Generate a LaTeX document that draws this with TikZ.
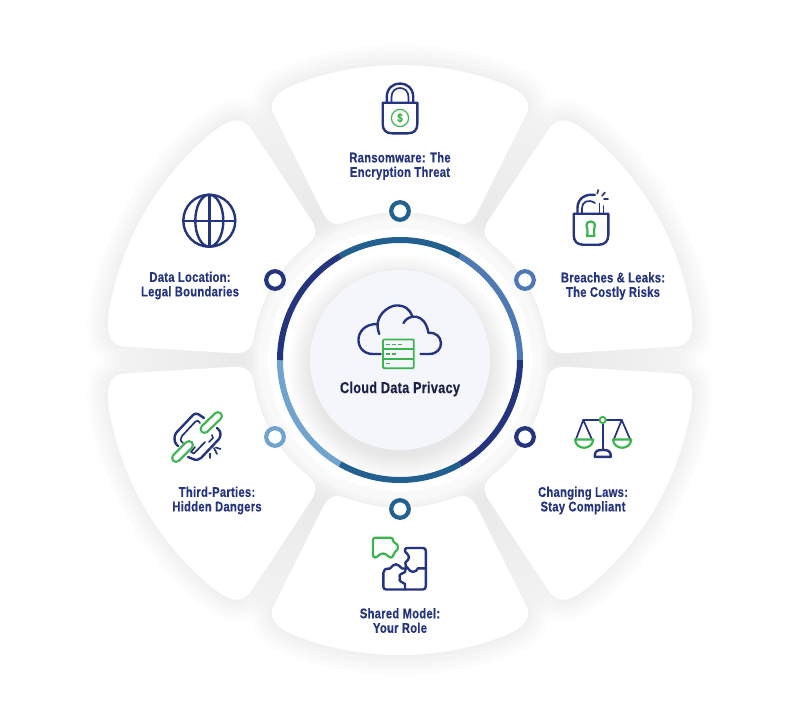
\documentclass[tikz,border=0pt]{standalone}
\usepackage{fontspec}
\setmainfont{Liberation Sans}[FakeStretch=0.8,LetterSpace=2,BoldFeatures={FakeBold=0.4}]
\definecolor{navy}{HTML}{25347F}
\definecolor{steel}{HTML}{21608F}
\definecolor{midblue}{HTML}{4F79B5}
\definecolor{lightblue}{HTML}{70A4CF}
\definecolor{leaf}{HTML}{3CB44F}
\definecolor{ink}{HTML}{1B2147}
\definecolor{discfill}{HTML}{F5F6FB}
\definecolor{halo}{HTML}{6A7090}
\newcommand\sectorshape{(249:295pt) arc[start angle=249,end angle=291,radius=295pt]
  .. controls (118,-270) and (134,-262) .. (126,-245) -- (77,-147)
  .. controls (70,-134) and (62,-135) .. (53,-138)
  arc[start angle=291,end angle=249,radius=147.8pt]
  .. controls (-62,-135) and (-70,-134) .. (-77,-147) -- (-126,-245)
  .. controls (-134,-262) and (-118,-270) .. cycle}
\tikzset{
  lbl/.style={font=\bfseries\fontsize{14}{14.5}\selectfont,text=navy,align=center,inner sep=0pt},
  nv/.style={draw=navy,line width=2.4pt,line cap=round,line join=round},
  nvthin/.style={draw=navy,line width=1.7pt,line cap=round,line join=round},
  gr/.style={draw=leaf,line width=2.2pt,line cap=round,line join=round},
  dot/.style={line width=4.2pt,fill=white},
  seg/.style={line width=6pt}
}
\begin{document}
\begin{tikzpicture}[x=1pt,y=1pt,yscale=-1]
\useasboundingbox (0,0) rectangle (800,720);
\fill[white] (0,0) rectangle (800,720);
% soft halos
\foreach \k in {0,60,...,300}{
  \begin{scope}[shift={(400,360)},rotate=\k]
    \foreach \w in {44,41,...,2}{
      \draw[halo,opacity=.0048,line width=\w pt,line join=round] \sectorshape;
    }
  \end{scope}
}
% sectors
\foreach \k in {0,60,...,300}{
  \begin{scope}[shift={(400,360)},rotate=\k]
    \fill[white] \sectorshape;
  \end{scope}
}
% inner plate
\foreach \r in {146,144,...,132}{
  \fill[white,opacity=.16] (400,360) circle[radius=\r pt];
}
\fill[white] (400,360) circle[radius=131pt];
% ring
\draw[seg,steel] (240:120pt)++(400,360) arc[start angle=240,end angle=300,radius=120pt];
\draw[seg,midblue] (300:120pt)++(400,360) arc[start angle=300,end angle=360,radius=120pt];
\draw[seg,navy] (0:120pt)++(400,360) arc[start angle=0,end angle=60,radius=120pt];
\draw[seg,steel] (60:120pt)++(400,360) arc[start angle=60,end angle=120,radius=120pt];
\draw[seg,lightblue] (120:120pt)++(400,360) arc[start angle=120,end angle=180,radius=120pt];
\draw[seg,navy] (180:120pt)++(400,360) arc[start angle=180,end angle=240,radius=120pt];
% central disc shadow
\foreach \r in {112,110,...,90}{
  \fill[halo,opacity=.013] (400,367) circle[radius=\r pt];
}
\fill[discfill] (400,360) circle[radius=90pt];
% dots
\draw[dot,draw=steel] (400,211) circle[radius=8.8pt];
\draw[dot,draw=midblue] (525,280) circle[radius=8.8pt];
\draw[dot,draw=navy] (525,437) circle[radius=8.8pt];
\draw[dot,draw=steel] (400,509) circle[radius=8.8pt];
\draw[dot,draw=lightblue] (275,437) circle[radius=8.8pt];
\draw[dot,draw=navy] (275,280) circle[radius=8.8pt];
% labels
\node[lbl] (ransom) at (400,166) {Ransomware: The\\Encryption Threat};
\node[lbl] (breach) at (613,286) {Breaches \& Leaks:\\The Costly Risks};
\node[lbl] (laws) at (583,500.5) {Changing Laws:\\Stay Compliant};
\node[lbl] (shared) at (400,620.5) {Shared Model:\\Your Role};
\node[lbl] (third) at (217,500.5) {Third-Parties:\\Hidden Dangers};
\node[lbl] (location) at (190,285.5) {Data Location:\\Legal Boundaries};
\node[font=\bfseries\fontsize{15.8}{16}\selectfont,text=ink,inner sep=0pt] (title) at (400,389) {Cloud Data Privacy};
% top lock
\draw[nv] (382.7,102.7) -- (417.3,102.7) -- (417.3,124) .. controls (417.3,130) and (414,133.3) .. (408,133.3) -- (392,133.3) .. controls (386,133.3) and (382.7,130) .. (382.7,124) -- cycle;
\draw[nv] (386.8,102.7) -- (386.8,97) .. controls (386.8,79) and (413.2,79) .. (413.2,97) -- (413.2,102.7);
\draw[nvthin] (391.5,102.7) -- (391.5,97) .. controls (391.5,85) and (408.5,85) .. (408.5,97) -- (408.5,102.7);
\draw[leaf,line width=1.2pt] (400,118) circle[radius=8.6pt];
\node[font=\bfseries\fontsize{12}{12}\selectfont,text=leaf,inner sep=0pt] (dollar) at (400,118) {\$};
% breach lock
\draw[nv] (573.7,213.7) -- (608.3,213.7) -- (608.3,235) .. controls (608.3,241) and (605,244.7) .. (599,244.7) -- (583,244.7) .. controls (577,244.7) and (573.7,241) .. (573.7,235) -- cycle;
\draw[nv] (577.5,213.7) -- (577.5,208) .. controls (577.5,198) and (586,193.5) .. (595,195);
\draw[nvthin] (582,213.7) -- (582,208) .. controls (582,202) and (588,198.5) .. (595,203);
\draw[nvthin] (599.4,203.5) -- (599.4,213);
\draw[nvthin] (603.4,206) -- (603.4,213);
\draw[nvthin] (598.2,190) -- (597.2,193.5);
\draw[nvthin] (605,192.5) -- (602,195.8);
\draw[nvthin] (608,199) -- (604,199);
\draw[leaf,line width=2.2pt,fill=white,line join=round] (590.7,221.4) .. controls (593.7,221.4) and (595,223.5) .. (595,225.5) .. controls (595,227.5) and (593,228) .. (594.4,236) -- (587,236) .. controls (588.4,228) and (586.4,227.5) .. (586.4,225.5) .. controls (586.4,223.5) and (587.7,221.4) .. (590.7,221.4) -- cycle;
% scales
\draw[nv] (583.3,420) -- (621.7,420);
\draw[nv] (602.7,420) -- (602.7,450);
\draw[nv] (594.8,456.8) .. controls (594.8,450) and (598,450) .. (602.7,450) .. controls (607,450) and (610.8,450) .. (610.8,456.8) -- cycle;
\draw[nvthin] (583.3,420) -- (576,439) (583.3,420) -- (591.7,439);
\draw[nvthin] (621.7,420) -- (614,439) (621.7,420) -- (630,439);
\draw[gr] (575,439.5) -- (593.2,439.5) .. controls (592.5,450.5) and (575.7,450.5) .. (575,439.5) -- cycle;
\draw[gr] (613,439.5) -- (631.2,439.5) .. controls (630.5,450.5) and (613.7,450.5) .. (613,439.5) -- cycle;
\draw[leaf,line width=1.9pt,fill=white] (602.7,420) circle[radius=3.1pt];
% puzzle
\draw[gr] (375,537.8) -- (391,537.8) .. controls (394,538) and (392,542) .. (395,543) .. controls (399,544) and (399,550) .. (395,552) .. controls (392,554) and (394,557.5) .. (391,557.5) .. controls (388,557.5) and (387,553.5) .. (383,553.5) .. controls (379,553.5) and (378,557.5) .. (375,557.5) .. controls (373,557.5) and (373,556) .. (373,554) -- (373,540) .. controls (373,538.5) and (374,537.8) .. (375,537.8) -- cycle;
\draw[nv] (407,548) -- (423,548) .. controls (425,548) and (425.8,549) .. (425.8,551) -- (425.8,568.3) -- (418,568.3) .. controls (416,573) and (410,573) .. (408,568.3) -- (406,566.5) .. controls (404.5,564) and (405,562) .. (408,560) .. controls (411,556) and (406,553) .. (405,551.5) -- (405,550) .. controls (405,548.7) and (406,548) .. (407,548) -- cycle;
\draw[nv] (425.8,568.3) -- (425.8,586) .. controls (425.8,588) and (425,589.5) .. (423,589.5) -- (405,589.5) -- (405,584) .. controls (402,582) and (398,581) .. (400,578) .. controls (398,574) and (402,574) .. (405,572) -- (406,566.5);
\draw[nv] (405,589.5) -- (386,589.5) .. controls (384,589.5) and (383.3,588) .. (383.3,586) -- (383.3,573) .. controls (383.3,570) and (385,568.5) .. (390,568.5) .. controls (392,566) and (394,564.3) .. (396,564.3) .. controls (398,564.3) and (400,566.5) .. (402,568.5) -- (406,568.5);
% chain
\draw[nv] (204,418) -- (198,414) .. controls (196,413) and (194,414) .. (193,415) -- (176,433) .. controls (174,436) and (174,441) .. (176,444) -- (178,446);
\draw[nvthin] (200,423) .. controls (198,420) and (197,420.5) .. (195,422) -- (182,436) .. controls (180,438) and (180,441) .. (183,443);
\draw[nv] (188,457) -- (193,459) .. controls (196,460.5) and (199,460) .. (201,458) -- (219,439) .. controls (221,436) and (221,432) .. (219,430) -- (217,428);
\draw[nvthin] (195,447) -- (191,452) -- (194,453.5) -- (205,442);
\draw[nvthin] (212,435) -- (213,438) -- (209,442);
\draw[leaf,line width=10pt,line cap=round] (204.5,429) -- (218,416);
\draw[white,line width=5.4pt,line cap=round] (204.5,429) -- (218,416);
\draw[leaf,line width=10pt,line cap=round] (176,458) -- (189,445);
\draw[white,line width=5.4pt,line cap=round] (176,458) -- (189,445);
\draw[nvthin] (210,453.5) -- (210,458);
\draw[nvthin] (214,448) -- (217,454);
\draw[nvthin] (216,447.5) -- (220.5,449);
% globe
\draw[nv] (209.3,220.7) circle[radius=26pt];
\draw[nv] (209.3,220.7) ellipse[x radius=14pt,y radius=26pt];
\draw[nv] (209.3,194.7) -- (209.3,246.7);
\draw[nv] (183.3,220.7) -- (235.3,220.7);
% cloud
\draw[nv] (380.7,354) -- (373,354) .. controls (353,354) and (353,324) .. (377,324);
\draw[nv] (379.3,334) .. controls (372,315) and (390,305.5) .. (396,305.5) .. controls (405,305) and (410,310) .. (412,315.5);
\draw[nv] (403.5,323) .. controls (408,314) and (425,312) .. (428.5,333) .. controls (444,331) and (446,354) .. (429,354) -- (420.5,354);
% server
\draw[leaf,line width=1.7pt,rounded corners=1pt] (383,339.5) rectangle (413.8,368.2);
\draw[leaf,line width=1.7pt] (383,349.1) -- (413.8,349.1) (383,358.7) -- (413.8,358.7);
\draw[leaf,line width=1.4pt] (386,344.6) -- (389.5,344.6) (392,344.6) -- (395.5,344.6) (398,344.6) -- (402,344.6);
\draw[leaf,line width=1.4pt] (386,354) -- (389.5,354) (392,354) -- (395.5,354);
\draw[leaf,line width=1.4pt] (386,363.7) -- (390,363.7);
\end{tikzpicture}
\end{document}
